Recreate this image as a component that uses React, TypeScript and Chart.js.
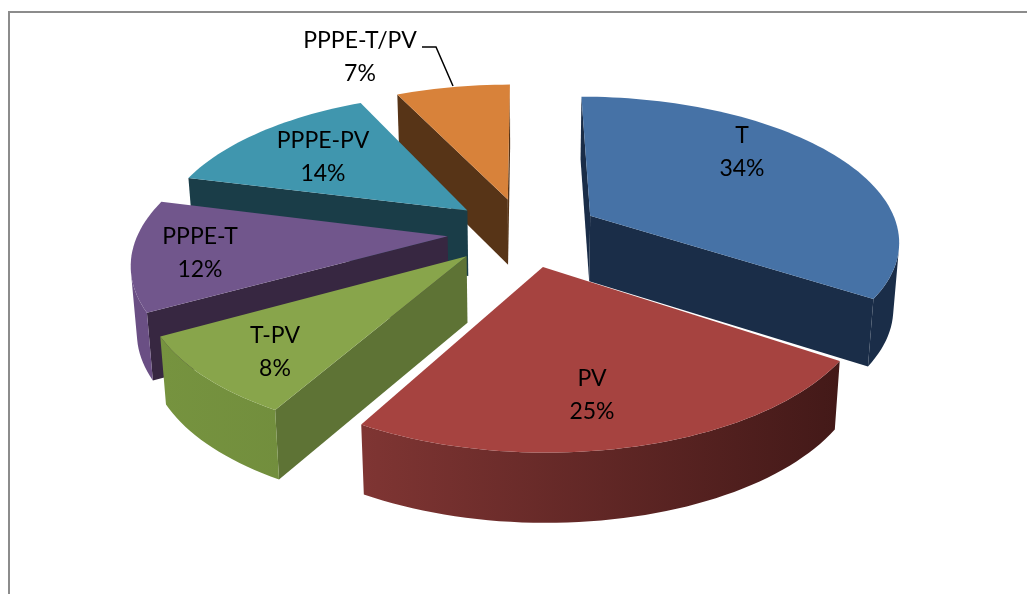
import React, { useEffect, useRef } from "react";
import { Chart, registerables } from "chart.js";

Chart.register(...registerables);

const categories = ["T", "PV", "T-PV", "PPPE-T", "PPPE-PV", "PPPE-T/PV"];
const shares = [34, 25, 8, 12, 14, 7];
const topColors = ["#4672A6", "#A64340", "#88A54B", "#71568C", "#4096AE", "#D8823A"];
const wallColors = ["#1A2D48", "#451B19", "#5E7335", "#372741", "#1A3D48", "#573417"];
const rimLeftColors = ["#1A2D48", "#7F3533", "#76933F", "#6A4F84", "#1A3D48", "#8A5225"];
const rimRightColors = ["#1A2D48", "#431918", "#6C873A", "#6A4F84", "#1A3D48", "#8A5225"];
const paintOrder = [5, 4, 3, 0, 2, 1];
// The 3D view bends the slice boundaries slightly (degrees, at each slice's start).
const boundaryBendDeg = [0, 1.1, -3, -0.4, 0, -0.3];
// Sideways parallax of each exploded slice in the 3D view (pixels).
const sliceParallaxX = [2.5, 2.5, -1, -1.5, 0, 0];
const labelCentres = [
  [742, 152],
  [592, 395],
  [275, 352],
  [200, 253],
  [323, 157],
  [360, 57],
];

const VIEW = { cx: 523.5, cy: 232, sx: 309, sy: 143, persp: 0.161, depth: 66, depthPersp: 0.016 };

function project(u: number, v: number, z: number) {
  const base = 1 - VIEW.persp * v;
  const w = base * (1 + VIEW.depthPersp * z);
  return {
    x: VIEW.cx + (VIEW.sx * u) / w,
    y: VIEW.cy + (VIEW.sy * v) / w + (VIEW.depth * z) / Math.pow(base, 0.5),
  };
}

type P = { x: number; y: number };

function fillPoly(ctx: CanvasRenderingContext2D, pts: P[], fill: string | CanvasGradient) {
  ctx.beginPath();
  pts.forEach((p, i) => (i ? ctx.lineTo(p.x, p.y) : ctx.moveTo(p.x, p.y)));
  ctx.closePath();
  ctx.fillStyle = fill;
  ctx.fill();
}

function area(pts: P[]) {
  let a = 0;
  pts.forEach((p, i) => {
    const q = pts[(i + 1) % pts.length];
    a += p.x * q.y - q.x * p.y;
  });
  return a / 2;
}

const pie3d = {
  id: "pie3d",
  beforeDatasetsDraw(chart: any) {
    const ctx: CanvasRenderingContext2D = chart.ctx;
    const meta = chart.getDatasetMeta(0);
    const rad = Math.PI / 180;
    paintOrder.forEach((index) => {
      const arc = meta.data[index];
      const { startAngle, endAngle, outerRadius } = arc.getProps(["startAngle", "endAngle", "outerRadius"], true);
      const off = arc.options.offset / outerRadius;
      const mid = (startAngle + endAngle) / 2;
      const ou = Math.cos(mid) * off;
      const ov = Math.sin(mid) * off;
      const a0 = startAngle + boundaryBendDeg[index] * rad;
      const a1 = endAngle + boundaryBendDeg[(index + 1) % boundaryBendDeg.length] * rad;
      const plane: [number, number][] = [[ou, ov]];
      const steps = Math.max(8, Math.ceil((a1 - a0) / 0.03));
      for (let s = 0; s <= steps; s++) {
        const t = a0 + ((a1 - a0) * s) / steps;
        plane.push([ou + Math.cos(t), ov + Math.sin(t)]);
      }
      const nudge = (p: P) => ({ x: p.x + sliceParallaxX[index], y: p.y });
      const top = plane.map(([u, v]) => nudge(project(u, v, 0)));
      const bottom = plane.map(([u, v]) => nudge(project(u, v, 1)));
      const xs = top.map((p) => p.x);
      const grad = ctx.createLinearGradient(Math.min(...xs), 0, Math.max(...xs), 0);
      grad.addColorStop(0, rimLeftColors[index]);
      grad.addColorStop(1, rimRightColors[index]);
      const n = plane.length;
      const visible = (i: number) => {
        const j = (i + 1) % n;
        return area([top[i], top[j], bottom[j], bottom[i]]) < 0;
      };
      // the two straight cut faces
      [0, n - 1].forEach((i) => {
        if (!visible(i)) return;
        const j = (i + 1) % n;
        fillPoly(ctx, [top[i], top[j], bottom[j], bottom[i]], wallColors[index]);
      });
      // the curved rim, as one face per visible run
      let i = 1;
      while (i < n - 1) {
        if (!visible(i)) {
          i++;
          continue;
        }
        let j = i;
        while (j < n - 1 && visible(j)) j++;
        const upper = top.slice(i, j + 1);
        const lower = bottom.slice(i, j + 1).reverse();
        fillPoly(ctx, [...upper, ...lower], grad);
        i = j;
      }
      fillPoly(ctx, top, topColors[index]);
    });

    ctx.textAlign = "center";
    ctx.textBaseline = "middle";
    ctx.fillStyle = "#000000";
    ctx.font = '23px Lato, "Open Sans", sans-serif';
    categories.forEach((name, i) => {
      const [x, y] = labelCentres[i];
      ctx.fillText(name, x, y - 16);
      ctx.fillText(`${shares[i]}%`, x, y + 17);
    });

    ctx.beginPath();
    ctx.moveTo(422, 47);
    ctx.lineTo(436, 47);
    ctx.lineTo(453, 86);
    ctx.strokeStyle = "#000000";
    ctx.lineWidth = 1.5;
    ctx.stroke();
    return false;
  },
};

export default function App() {
  const ref = useRef<HTMLCanvasElement>(null);
  useEffect(() => {
    const chart = new Chart(ref.current as HTMLCanvasElement, {
      type: "pie",
      data: {
        labels: categories,
        datasets: [{ data: shares, backgroundColor: topColors, offset: 64, borderWidth: 0 }],
      },
      options: {
        animation: false,
        responsive: false,
        events: [],
        plugins: { legend: { display: false }, tooltip: { enabled: false } },
      },
      plugins: [pie3d],
    } as any);
    return () => chart.destroy();
  }, []);
  return (
    <div style={{ position: "fixed", left: 0, top: 0, width: 1027, height: 594, overflow: "hidden", background: "#fff" }}>
      <div
        style={{
          position: "absolute",
          left: 8,
          top: 11,
          width: 1027,
          height: 594,
          borderLeft: "2px solid #8c8c8c",
          borderTop: "2px solid #8c8c8c",
        }}
      />
      <canvas ref={ref} width={1027} height={594} style={{ position: "absolute", left: 0, top: 0, display: "block" }} />
    </div>
  );
}
